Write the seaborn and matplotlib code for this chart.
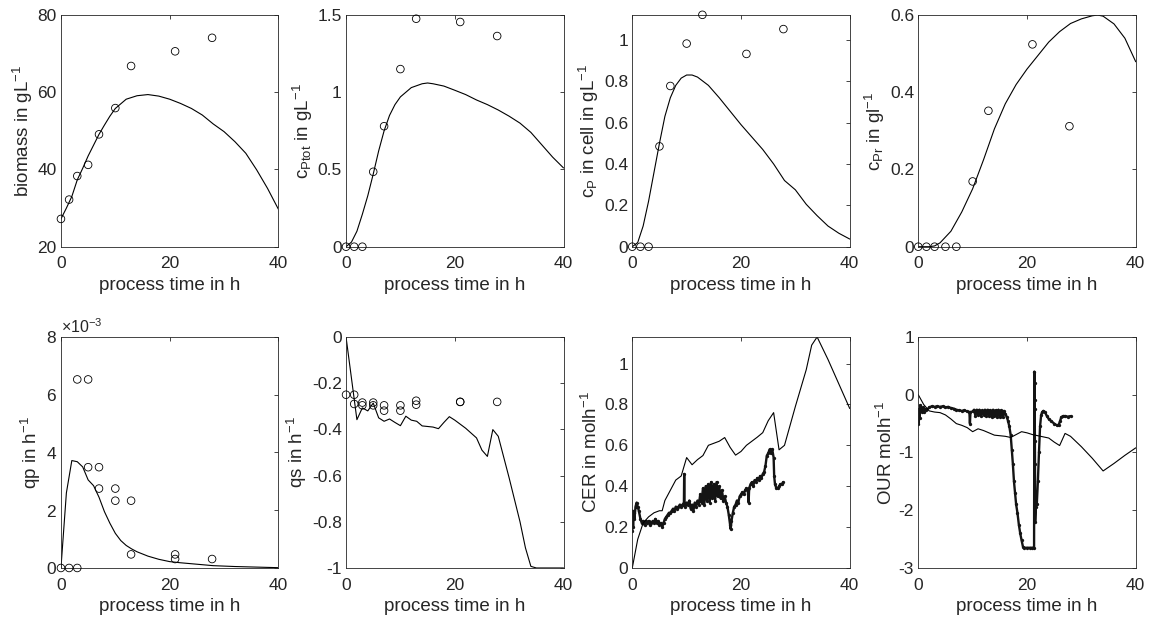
import numpy as np
import pandas as pd
import matplotlib
matplotlib.use("Agg")
import matplotlib.pyplot as plt
from matplotlib.ticker import FuncFormatter, ScalarFormatter
import seaborn as sns

# ---------------- measured samples (open circles) ----------------
sample_t = [0, 1.5, 3, 5, 7, 10, 12.9, 21, 27.8]
biomass_meas = [27.2, 32.2, 38.3, 41.2, 49.1, 55.9, 66.8, 70.6, 74.1]
cptot_meas = [0, 0, 0, 0.485, 0.78, 1.15, 1.476, 1.455, 1.364]
cp_meas = [0, 0, 0, 0.485, 0.777, 0.982, 1.121, 0.932, 1.052]
cpr_meas = [0, 0, 0, 0, 0, 0.169, 0.352, 0.524, 0.312]

qp_meas_t = [0, 1.5, 3, 3, 5, 5, 7, 7, 10, 10, 12.9, 12.9, 21, 21, 27.8]
qp_meas = [0, 0, 0, 6.53e-3, 6.53e-3, 3.49e-3, 3.49e-3, 2.75e-3, 2.75e-3,
           2.33e-3, 2.33e-3, 0.47e-3, 0.47e-3, 0.31e-3, 0.31e-3]

qs_meas_t = [0, 1.5, 1.5, 3, 3, 5, 5, 7, 7, 10, 10, 12.9, 12.9, 21, 21, 27.8]
qs_meas = [-0.25, -0.25, -0.29, -0.284, -0.296, -0.284, -0.296, -0.296, -0.319,
           -0.296, -0.319, -0.276, -0.293, -0.281, -0.281, -0.281]

# ---------------- online off-gas data (dots) ----------------
cer_t = [0.0, 0.05, 0.15, 0.25, 0.4, 0.6, 0.8, 1.0, 1.2, 1.5, 1.75, 2.0, 2.25, 2.5,
         2.75, 3.0, 3.25, 3.5, 3.75, 4.0, 4.25, 4.5, 4.75, 5.0, 5.25, 5.5, 5.75, 6.0,
         6.25, 6.5, 6.75, 7.0, 7.25, 7.5, 7.75, 8.0, 8.25, 8.5, 8.75, 9.0, 9.25, 9.5,
         9.55, 9.6, 9.75, 10.0, 10.25, 10.5, 10.75, 11.0, 11.25, 11.5, 11.75, 12.0,
         12.25, 12.5, 12.75, 13.0, 13.25, 13.5, 13.75, 14.0, 14.25, 14.5, 14.75, 15.0,
         15.25, 15.5, 15.75, 16.0, 16.25, 16.5, 16.75, 17.0, 17.25, 17.5, 17.75, 18.0,
         18.1, 18.25, 18.5, 18.75, 19.0, 19.25, 19.5, 19.75, 20.0, 20.25, 20.5, 20.75,
         21.0, 21.25, 21.4, 21.5, 21.75, 22.0, 22.25, 22.5, 22.75, 23.0, 23.25, 23.5,
         23.75, 24.0, 24.25, 24.5, 24.75, 25.0, 25.25, 25.5, 25.75, 26.0, 26.1, 26.25,
         26.5, 26.75, 27.0, 27.25, 27.5, 27.75]
cer_meas = [0.18, 0.28, 0.2, 0.27, 0.24, 0.3, 0.32, 0.3, 0.28, 0.24, 0.22, 0.23, 0.21,
            0.23, 0.22, 0.23, 0.21, 0.22, 0.23, 0.22, 0.24, 0.22, 0.23, 0.21, 0.22, 0.2,
            0.22, 0.24, 0.25, 0.26, 0.27, 0.27, 0.28, 0.29, 0.28, 0.3, 0.29, 0.3, 0.31,
            0.3, 0.31, 0.32, 0.46, 0.31, 0.3, 0.32, 0.31, 0.33, 0.29, 0.31, 0.28, 0.32,
            0.3, 0.33, 0.31, 0.36, 0.32, 0.39, 0.31, 0.4, 0.33, 0.41, 0.32, 0.42, 0.34,
            0.41, 0.33, 0.42, 0.35, 0.4, 0.34, 0.38, 0.33, 0.35, 0.32, 0.3, 0.26, 0.21,
            0.19, 0.23, 0.27, 0.3, 0.31, 0.33, 0.32, 0.35, 0.36, 0.37, 0.36, 0.38, 0.39,
            0.38, 0.32, 0.39, 0.41, 0.42, 0.4, 0.43, 0.42, 0.44, 0.43, 0.45, 0.44, 0.46,
            0.47, 0.5, 0.55, 0.56, 0.58, 0.56, 0.58, 0.54, 0.45, 0.41, 0.39, 0.39, 0.4,
            0.41, 0.41, 0.42]

our_t = [0.0, 0.02, 0.1, 0.25, 0.4, 0.6, 0.8, 1.0, 1.25, 1.5, 2.0, 2.5, 3.0, 3.5, 4.0,
         4.5, 5.0, 5.5, 6.0, 6.5, 7.0, 7.5, 8.0, 8.5, 9.0, 9.4, 9.5, 9.6, 10.0, 10.25,
         10.5, 10.75, 11.0, 11.25, 11.5, 11.75, 12.0, 12.25, 12.5, 12.75, 13.0, 13.25,
         13.5, 13.75, 14.0, 14.25, 14.5, 14.75, 15.0, 15.25, 15.5, 15.75, 16.0, 16.25,
         16.5, 16.75, 17.0, 17.2, 17.4, 17.6, 17.8, 18.0, 18.25, 18.5, 18.75, 19.0,
         19.25, 19.5, 20.0, 20.5, 21.0, 21.3, 21.35, 21.38, 21.4, 21.42, 21.45, 21.47,
         21.5, 21.6, 21.8, 22.0, 22.2, 22.4, 22.6, 22.8, 23.0, 23.3, 23.6, 24.0, 24.5,
         25.0, 25.5, 25.8, 26.1, 26.3, 26.6, 27.0, 27.5, 28.0]
our_meas = [-0.3, -0.5, -0.25, -0.4, -0.18, -0.3, -0.22, -0.3, -0.25, -0.27, -0.22,
            -0.2, -0.21, -0.2, -0.21, -0.2, -0.22, -0.21, -0.23, -0.24, -0.26, -0.27,
            -0.28, -0.27, -0.29, -0.3, -0.5, -0.3, -0.29, -0.26, -0.36, -0.26, -0.35,
            -0.26, -0.36, -0.27, -0.35, -0.26, -0.37, -0.26, -0.36, -0.27, -0.38, -0.26,
            -0.37, -0.27, -0.39, -0.26, -0.38, -0.27, -0.39, -0.28, -0.33, -0.38, -0.45,
            -0.55, -0.7, -0.95, -1.2, -1.5, -1.7, -1.9, -2.05, -2.25, -2.4, -2.52, -2.63,
            -2.65, -2.65, -2.65, -2.65, -2.65, 0.4, 0.2, -0.1, -0.25, -0.8, -1.2, -2.2,
            -1.95, -1.9, -1.5, -1.0, -0.55, -0.35, -0.3, -0.28, -0.3, -0.36, -0.42,
            -0.46, -0.5, -0.53, -0.53, -0.45, -0.39, -0.37, -0.37, -0.38, -0.37]

# ---------------- model simulation (solid lines) ----------------
biomass_sim_t = [0, 1, 2, 3, 4, 5, 6, 7, 8, 9, 10, 12, 14, 16, 18, 20, 22, 24, 26, 28,
                 30, 32, 34, 36, 38, 40]
biomass_sim = [27.2, 30, 33, 37.3, 40.3, 43.5, 46.3, 49.1, 51.5, 53.8, 55.8, 58.2, 59.1,
               59.4, 59.0, 58.2, 57.1, 55.8, 54.1, 51.8, 49.8, 47.2, 44.2, 39.9, 35.1, 29.7]

cptot_sim_t = [0, 1, 2, 3, 4, 5, 6, 7, 8, 9, 10, 12, 14, 15, 16, 18, 20, 22, 24, 26, 28,
               30, 32, 34, 36, 38, 40]
cptot_sim = [0, 0.03, 0.1, 0.21, 0.33, 0.47, 0.62, 0.75, 0.85, 0.92, 0.97, 1.03, 1.055,
             1.06, 1.055, 1.04, 1.013, 0.985, 0.95, 0.92, 0.885, 0.845, 0.8, 0.74, 0.66,
             0.58, 0.51]

cp_sim_t = [0, 1, 2, 3, 4, 5, 6, 7, 8, 9, 10, 11, 12, 14, 16, 18, 20, 22, 24, 26, 28,
            30, 32, 34, 36, 38, 40]
cp_sim = [0, 0.02, 0.1, 0.22, 0.36, 0.5, 0.63, 0.72, 0.78, 0.815, 0.83, 0.83, 0.82,
          0.78, 0.72, 0.655, 0.59, 0.53, 0.47, 0.4, 0.32, 0.275, 0.205, 0.15, 0.1,
          0.065, 0.037]

cpr_sim_t = [0, 2, 3, 4, 6, 8, 10, 12, 14, 16, 18, 20, 22, 24, 26, 28, 30, 32, 33, 34,
             36, 38, 40]
cpr_sim = [0, 0, 0.002, 0.01, 0.04, 0.09, 0.15, 0.225, 0.305, 0.37, 0.42, 0.46, 0.495,
           0.53, 0.557, 0.578, 0.59, 0.598, 0.6, 0.597, 0.577, 0.54, 0.479]

qp_sim_t = [0, 1, 2, 3, 4, 5, 6, 7, 8, 9, 10, 11, 12, 13, 14, 16, 18, 20, 22, 25, 28,
            32, 36, 40]
qp_sim = [0, 2.6e-3, 3.72e-3, 3.68e-3, 3.5e-3, 3.05e-3, 2.85e-3, 2.45e-3, 1.95e-3,
          1.55e-3, 1.2e-3, 0.95e-3, 0.78e-3, 0.66e-3, 0.56e-3, 0.41e-3, 0.3e-3,
          0.22e-3, 0.18e-3, 0.13e-3, 0.08e-3, 0.05e-3, 0.03e-3, 0.01e-3]

qs_sim_t = [0, 2, 3, 4, 5, 6, 7, 8, 9, 10, 11, 12, 13, 14, 16, 17, 18, 19, 20, 22, 24,
            25, 26, 27, 28, 30, 32, 33, 34, 35, 40]
qs_sim = [0, -0.358, -0.307, -0.32, -0.286, -0.35, -0.365, -0.355, -0.37, -0.384,
          -0.343, -0.36, -0.365, -0.385, -0.39, -0.397, -0.37, -0.345, -0.36, -0.395,
          -0.437, -0.49, -0.517, -0.401, -0.43, -0.61, -0.8, -0.913, -0.993, -1.0, -1.0]

cer_sim_t = [0, 1, 2, 3, 4, 5, 5.5, 6, 7, 8, 9, 10, 11, 12, 13, 14, 15, 16, 17, 18, 19,
             20, 21, 22, 23, 24, 25, 26, 27, 28, 30, 32, 33, 34, 36, 38, 40]
cer_sim = [0, 0.14, 0.22, 0.25, 0.27, 0.28, 0.28, 0.33, 0.38, 0.43, 0.45, 0.54, 0.505,
           0.53, 0.55, 0.6, 0.61, 0.62, 0.638, 0.59, 0.552, 0.57, 0.6, 0.62, 0.64, 0.662,
           0.72, 0.76, 0.578, 0.6, 0.79, 0.97, 1.09, 1.13, 1.02, 0.9, 0.78]

our_sim_t = [0, 1, 2, 3, 4, 5, 6, 7, 8, 9, 10, 11, 12, 13, 14, 15, 16, 17, 18, 19, 20,
             21, 22, 23, 24, 25, 26, 27, 28, 30, 32, 34, 36, 38, 40]
our_sim = [0, -0.17, -0.28, -0.3, -0.31, -0.35, -0.42, -0.5, -0.53, -0.57, -0.64, -0.59,
           -0.62, -0.66, -0.7, -0.71, -0.72, -0.74, -0.69, -0.64, -0.66, -0.69, -0.71,
           -0.73, -0.75, -0.82, -0.88, -0.67, -0.72, -0.9, -1.1, -1.32, -1.19, -1.05,
           -0.92]

# ---------------- axis text ----------------
x_label = "process time in h"
y_labels = [
    "biomass in gL$^{-1}$",
    "c$_{Ptot}$ in gL$^{-1}$",
    "c$_P$ in cell in gL$^{-1}$",
    "c$_{Pr}$ in gl$^{-1}$",
    "qp in h$^{-1}$",
    "qs in h$^{-1}$",
    "CER in molh$^{-1}$",
    "OUR molh$^{-1}$",
]
y_limits = [(20, 80), (0, 1.5), (0, 1.12), (0, 0.6), (0, 8e-3), (-1, 0), (0, 1.13), (-3, 1)]
y_ticks = [
    [20, 40, 60, 80],
    [0, 0.5, 1, 1.5],
    [0, 0.2, 0.4, 0.6, 0.8, 1],
    [0, 0.2, 0.4, 0.6],
    [0, 2e-3, 4e-3, 6e-3, 8e-3],
    [-1, -0.8, -0.6, -0.4, -0.2, 0],
    [0, 0.2, 0.4, 0.6, 0.8, 1],
    [-3, -2, -1, 0, 1],
]
x_ticks = [0, 20, 40]

# ---------------- style ----------------
sns.set_theme(style="white")
plt.rcParams["font.family"] = ["Liberation Sans", "DejaVu Sans"]
plt.rcParams["mathtext.default"] = "regular"
text_color = "#262626"
frame_color = "#262626"

fig = plt.figure(figsize=(11.5, 6.26), dpi=100)
lefts = [0.0530, 0.3009, 0.5498, 0.7985]
width = 0.1891
row_bottoms = [0.6059, 0.0927]
row_heights = [0.3701, 0.369]

axes = []
for r in range(2):
    for c in range(4):
        axes.append(fig.add_axes([lefts[c], row_bottoms[r], width, row_heights[r]]))

line_kw = dict(color="black", linewidth=0.8, estimator=None, sort=False, legend=False)
circ_kw = dict(s=30, marker="o", facecolor="none", edgecolor="black", linewidth=0.6,
               legend=False, zorder=3, clip_on=False)
dot_kw = dict(color="#141414", linewidth=1.7, estimator=None, sort=False, legend=False,
              marker="o", markersize=2.4, markeredgewidth=0, zorder=2)

panels = [
    (biomass_sim_t, biomass_sim, sample_t, biomass_meas, None),
    (cptot_sim_t, cptot_sim, sample_t, cptot_meas, None),
    (cp_sim_t, cp_sim, sample_t, cp_meas, None),
    (cpr_sim_t, cpr_sim, sample_t, cpr_meas, None),
    (qp_sim_t, qp_sim, qp_meas_t, qp_meas, None),
    (qs_sim_t, qs_sim, qs_meas_t, qs_meas, None),
    (cer_sim_t, cer_sim, None, None, (cer_t, cer_meas)),
    (our_sim_t, our_sim, None, None, (our_t, our_meas)),
]

for i, (ax, (st, sv, mt, mv, online)) in enumerate(zip(axes, panels)):
    if online is not None:
        sns.lineplot(x=online[0], y=online[1], ax=ax, **dot_kw)
    sns.lineplot(x=st, y=sv, ax=ax, **line_kw)
    if mt is not None:
        sns.scatterplot(x=mt, y=mv, ax=ax, **circ_kw)

    ax.set_xlim(0, 40)
    ax.set_ylim(*y_limits[i])
    ax.set_xticks(x_ticks)
    ax.set_yticks(y_ticks[i])
    ax.xaxis.set_major_formatter(FuncFormatter(lambda v, p: f"{v:g}"))
    if i == 4:
        fmt = ScalarFormatter(useMathText=True)
        fmt.set_powerlimits((-2, 2))
        ax.yaxis.set_major_formatter(fmt)
        ax.yaxis.get_offset_text().set_fontsize(11.5)
        ax.yaxis.get_offset_text().set_color(text_color)
    else:
        ax.yaxis.set_major_formatter(FuncFormatter(lambda v, p: f"{v:g}"))

    ax.set_xlabel(x_label, fontsize=13.5, color=text_color, labelpad=4)
    ax.set_ylabel(y_labels[i], fontsize=13.5, color=text_color, labelpad=2)
    ax.tick_params(direction="in", length=3, width=0.6, colors=frame_color,
                   labelcolor=text_color, labelsize=12.5, top=True, right=True)
    ax.tick_params(axis="x", pad=7)
    ax.tick_params(axis="y", pad=3)
    for sp in ax.spines.values():
        sp.set_visible(True)
        sp.set_color(frame_color)
        sp.set_linewidth(0.6)
    ax.set_facecolor("white")

fig.savefig("out.png", dpi=100, facecolor="white")
